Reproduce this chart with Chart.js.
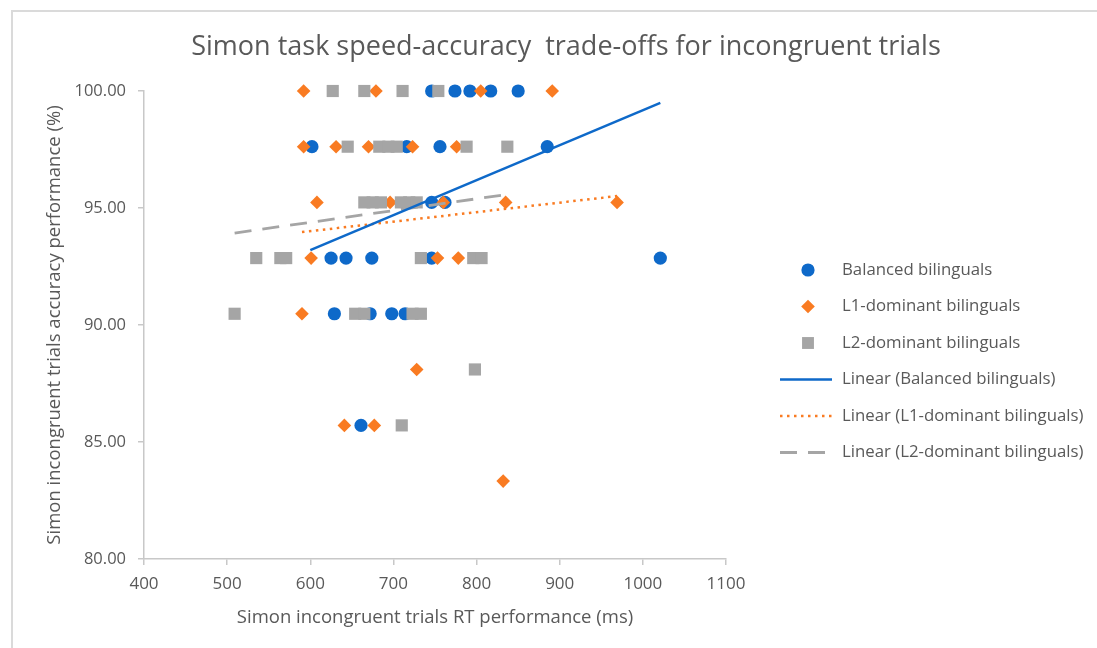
<!DOCTYPE html>
<html>
<head>
<meta charset="utf-8">
<script src="https://cdn.jsdelivr.net/npm/chart.js@4/dist/chart.umd.min.js"></script>
<style>
  html, body { margin: 0; padding: 0; background: #ffffff; }
  #wrap { width: 1097px; height: 648px; position: relative; }
  canvas { display: block; }
</style>
</head>
<body>
<div id="wrap"><canvas id="c" width="1097" height="648"></canvas></div>
<script>
// ---------- text ----------
const chartTitle = 'Simon task speed-accuracy  trade-offs for incongruent trials';
const xAxisTitle = 'Simon incongruent trials RT performance (ms)';
const yAxisTitle = 'Simon incongruent trials accuracy performance (%)';
const seriesNames = ['Balanced bilinguals', 'L1-dominant bilinguals', 'L2-dominant bilinguals'];
const trendNames = ['Linear (Balanced bilinguals)', 'Linear (L1-dominant bilinguals)', 'Linear (L2-dominant bilinguals)'];

// ---------- axis ticks ----------
const xTicks = [400, 500, 600, 700, 800, 900, 1000, 1100];
const yTicks = [80, 85, 90, 95, 100];

// ---------- data (RT ms, accuracy %) ----------
const balancedRT  = [746, 774, 792, 817, 850, 602, 716, 756, 885, 746, 762, 625, 643, 674, 746, 1021, 629, 672, 698, 714, 661];
const balancedAcc = [100, 100, 100, 100, 100, 97.62, 97.62, 97.62, 97.62, 95.24, 95.24, 92.86, 92.86, 92.86, 92.86, 92.86, 90.48, 90.48, 90.48, 90.48, 85.71];

const l1RT  = [592, 679, 805, 891, 592, 631, 670, 723, 776, 608, 696, 760, 835, 969, 601, 753, 778, 590, 728, 641, 677, 832];
const l1Acc = [100, 100, 100, 100, 97.62, 97.62, 97.62, 97.62, 97.62, 95.24, 95.24, 95.24, 95.24, 95.24, 92.86, 92.86, 92.86, 90.48, 88.10, 85.71, 85.71, 83.33];

const l2RT  = [627, 665, 711, 754, 645, 683, 694, 704, 788, 837, 665, 675, 685, 709, 719, 728, 535, 564, 571, 733, 796, 806, 509, 654, 665, 723, 733, 798, 710];
const l2Acc = [100, 100, 100, 100, 97.62, 97.62, 97.62, 97.62, 97.62, 97.62, 95.24, 95.24, 95.24, 95.24, 95.24, 95.24, 92.86, 92.86, 92.86, 92.86, 92.86, 92.86, 90.48, 90.48, 90.48, 90.48, 90.48, 88.10, 85.71];

// ---------- trend line end points ----------
const balancedTrendRT  = [600, 1021];
const balancedTrendAcc = [93.2, 99.49];
const l1TrendRT  = [590, 969];
const l1TrendAcc = [93.97, 95.51];
const l2TrendRT  = [509, 837];
const l2TrendAcc = [93.93, 95.58];

// ---------- styling ----------
const BLUE = '#0E69C9';
const ORANGE = '#F97B22';
const GRAY = '#A5A5A5';
const TEXT = '#595959';
const AXIS = '#C8C8C8';
const FONT = "'Open Sans', 'DejaVu Sans', sans-serif";

function pts(xs, ys) { return xs.map((x, i) => ({ x: x, y: ys[i] })); }

const datasets = [
  { label: seriesNames[0], data: pts(balancedRT, balancedAcc), pointStyle: 'circle', pointRadius: 6.6,
    backgroundColor: BLUE, borderColor: BLUE, borderWidth: 0, order: 3, clip: false },
  { label: seriesNames[1], data: pts(l1RT, l1Acc), pointStyle: 'rectRot', pointRadius: 6.8,
    backgroundColor: ORANGE, borderColor: ORANGE, borderWidth: 0, order: 2, clip: false },
  { label: seriesNames[2], data: pts(l2RT, l2Acc), pointStyle: 'rect', pointRadius: 8.6,
    backgroundColor: GRAY, borderColor: GRAY, borderWidth: 0, order: 1, clip: false },
  { label: trendNames[0], data: pts(balancedTrendRT, balancedTrendAcc), showLine: true, pointRadius: 0,
    borderColor: BLUE, borderWidth: 2.5, backgroundColor: BLUE, order: 0, clip: false },
  { label: trendNames[1], data: pts(l1TrendRT, l1TrendAcc), showLine: true, pointRadius: 0,
    borderColor: ORANGE, borderWidth: 2.5, borderDash: [2.5, 4.5], backgroundColor: ORANGE, order: 0, clip: false },
  { label: trendNames[2], data: pts(l2TrendRT, l2TrendAcc), showLine: true, pointRadius: 0,
    borderColor: GRAY, borderWidth: 2.8, borderDash: [17, 11], backgroundColor: GRAY, order: 0, clip: false }
];

const decorPlugin = {
  id: 'decor',
  beforeDraw(chart) {
    const ctx = chart.ctx;
    ctx.save();
    ctx.fillStyle = '#ffffff';
    ctx.fillRect(0, 0, chart.width, chart.height);
    ctx.strokeStyle = '#DADADA';
    ctx.lineWidth = 2;
    ctx.beginPath();
    ctx.moveTo(12, chart.height);
    ctx.lineTo(12, 11);
    ctx.lineTo(chart.width, 11);
    ctx.stroke();
    ctx.restore();
  },
  afterDraw(chart) {
    const ctx = chart.ctx;
    const area = chart.chartArea;
    ctx.save();
    // title
    ctx.fillStyle = TEXT;
    ctx.font = "27px " + FONT;
    ctx.textAlign = 'center';
    ctx.textBaseline = 'middle';
    ctx.fillText(chartTitle, 566, 47);

    // legend
    const markerX = area.right + 82;
    const lineX0 = area.right + 54;
    const lineX1 = area.right + 106;
    const textX = area.right + 116;
    const y0 = 270, step = 36.5;
    ctx.font = "16.8px " + FONT;
    ctx.textAlign = 'left';
    const ds = chart.data.datasets;
    for (let i = 0; i < 6; i++) {
      const d = ds[i];
      const y = y0 + i * step;
      if (i < 3) {
        ctx.save();
        ctx.fillStyle = d.backgroundColor;
        ctx.strokeStyle = d.backgroundColor;
        const r = i === 0 ? 6.6 : (i === 1 ? 6.8 : 8.4);
        Chart.helpers.drawPoint(ctx, { pointStyle: d.pointStyle, radius: r, rotation: 0, borderWidth: 0 }, markerX, y);
        ctx.restore();
      } else {
        ctx.save();
        ctx.strokeStyle = d.borderColor;
        ctx.lineWidth = d.borderWidth;
        ctx.setLineDash(d.borderDash || []);
        ctx.beginPath();
        ctx.moveTo(lineX0, y);
        ctx.lineTo(lineX1, y);
        ctx.stroke();
        ctx.restore();
      }
      ctx.fillStyle = TEXT;
      ctx.fillText(d.label, textX, y);
    }
    ctx.restore();
  }
};

new Chart(document.getElementById('c'), {
  type: 'scatter',
  data: { datasets: datasets },
  options: {
    responsive: false,
    animation: false,
    devicePixelRatio: 1,
    layout: { padding: { top: 91, left: 20, right: 371, bottom: 0 } },
    plugins: {
      legend: { display: false },
      title: { display: false },
      tooltip: { enabled: false }
    },
    scales: {
      x: {
        type: 'linear',
        min: xTicks[0],
        max: xTicks[xTicks.length - 1],
        afterBuildTicks(scale) { scale.ticks = xTicks.map(v => ({ value: v })); },
        afterFit(scale) { scale.height = 89; },
        ticks: { color: TEXT, font: { family: FONT, size: 17 }, padding: 9, maxRotation: 0, autoSkip: false,
                 callback: v => String(v) },
        grid: { drawOnChartArea: false, drawTicks: true, tickLength: 6, color: AXIS, lineWidth: 1.5 },
        border: { display: true, color: AXIS, width: 1.5 },
        title: { display: true, text: xAxisTitle, color: TEXT, font: { family: FONT, size: 18.5 }, padding: { top: 0, bottom: 19 } }
      },
      y: {
        type: 'linear',
        min: yTicks[0],
        max: yTicks[yTicks.length - 1],
        afterBuildTicks(scale) { scale.ticks = yTicks.map(v => ({ value: v })); },
        afterFit(scale) { scale.width = 124; },
        ticks: { color: TEXT, font: { family: FONT, size: 16.5 }, padding: 12, callback: v => Number(v).toFixed(2) },
        grid: { drawOnChartArea: false, drawTicks: true, tickLength: 6, color: AXIS, lineWidth: 1.5 },
        border: { display: true, color: AXIS, width: 1.5 },
        title: { display: true, text: yAxisTitle, color: TEXT, font: { family: FONT, size: 18.5 }, padding: { top: 24, bottom: 0 } }
      }
    }
  },
  plugins: [decorPlugin]
});
</script>
</body>
</html>
